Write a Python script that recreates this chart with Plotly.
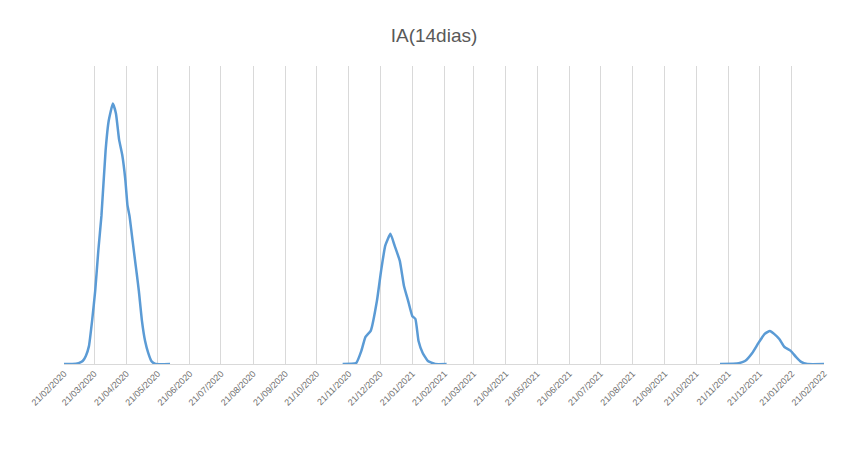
import plotly.graph_objects as go

dates = ["2020-02-21","2020-02-29","2020-03-06","2020-03-10","2020-03-13","2020-03-16","2020-03-19","2020-03-22","2020-03-25","2020-03-28","2020-04-01","2020-04-04","2020-04-08","2020-04-11","2020-04-14","2020-04-17","2020-04-20","2020-04-22","2020-04-24","2020-04-27","2020-04-30","2020-05-01","2020-05-03","2020-05-06","2020-05-09","2020-05-12","2020-05-15","2020-05-19","2020-06-02",
         None,
         "2020-11-15","2020-11-28","2020-12-03","2020-12-07","2020-12-12","2020-12-18","2020-12-22","2020-12-26","2020-12-31","2021-01-04","2021-01-09","2021-01-13","2021-01-17","2021-01-21","2021-01-24","2021-01-27","2021-01-31","2021-02-05","2021-02-12","2021-02-23",
         None,
         "2021-11-13","2021-12-01","2021-12-07","2021-12-14","2021-12-20","2021-12-26","2021-12-31","2022-01-04","2022-01-09","2022-01-14","2022-01-20","2022-01-25","2022-01-30","2022-02-05","2022-02-23"]
ia14 = [0,0,3,10,27,60,144,245,380,497,716,816,874,840,753,702,618,534,497,413,329,302,245,144,77,37,10,0,0,
        None,
        0,3,44,91,111,212,313,397,437,397,346,262,212,161,151,77,37,10,0,0,
        None,
        0,3,10,37,71,101,111,101,84,57,44,24,7,0,0]

tick_dates = ["2020-%02d-21" % m for m in range(2, 13)] + ["2021-%02d-21" % m for m in range(1, 13)] + ["2022-01-21", "2022-02-21"]
tick_text = ["21/%s/%s" % (d[5:7], d[:4]) for d in tick_dates]

fig = go.Figure(go.Scatter(x=dates, y=ia14, mode="lines", line=dict(color="#5B9BD5", width=2.5, shape="spline", smoothing=0.4),
                           connectgaps=False))
fig.update_layout(
    width=852, height=453, plot_bgcolor="white", paper_bgcolor="white",
    title=dict(text="IA(14dias)", x=0.5, y=0.955, font=dict(family="Liberation Sans", size=19, color="#595959")),
    margin=dict(l=56, r=36, t=58, b=97), showlegend=False,
    xaxis=dict(range=["2020-02-21", "2022-02-21"], tickvals=tick_dates, ticktext=tick_text, tickangle=-45,
               showgrid=True, gridcolor="#D9D9D9", gridwidth=1, showline=True, linecolor="#D9D9D9",
               tickfont=dict(family="Liberation Sans", size=9, color="#707070"), ticks=""),
    yaxis=dict(range=[0, 1000], showgrid=False, showticklabels=False, zeroline=False),
)
fig.write_html("out.html")
